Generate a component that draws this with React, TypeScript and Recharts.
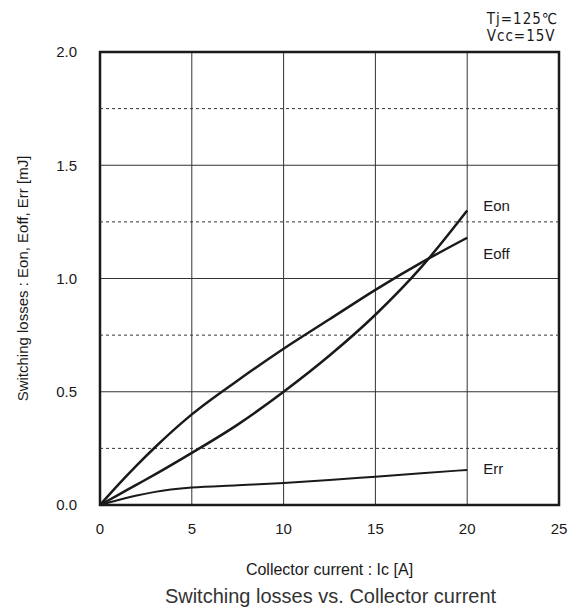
// Switching losses vs. Collector current (IGBT datasheet style)

import { LineChart, Line, XAxis, YAxis, CartesianGrid, ReferenceLine, ReferenceArea, Label } from 'recharts';

const currentA = [0, 1, 2, 3, 5, 7.5, 10, 12.5, 15, 17.5, 20];
const eonMJ = [0, 0.045, 0.09, 0.135, 0.23, 0.355, 0.5, 0.66, 0.84, 1.05, 1.3];
const eoffMJ = [0, 0.09, 0.175, 0.255, 0.4, 0.55, 0.69, 0.82, 0.95, 1.07, 1.18];
const errMJ = [0, 0.022, 0.042, 0.058, 0.077, 0.087, 0.097, 0.11, 0.125, 0.14, 0.155];

const xTicks = [0, 5, 10, 15, 20, 25];
const yTicks = [0, 0.5, 1.0, 1.5, 2.0];
const minorY = [0.25, 0.75, 1.25, 1.75];

const FONT = '"Liberation Sans", Arial, sans-serif';
const INK = '#1a1a1a';

const data = currentA.map((ic, i) => ({
  ic,
  eon: eonMJ[i],
  eoff: eoffMJ[i],
  err: errMJ[i],
}));

// name label drawn only next to the last point of a curve
const endLabel = (text: string, dy: number) => (props: any) => {
  const { x, y, index } = props;
  if (index !== data.length - 1) return null;
  return (
    <text x={x + 16} y={y + dy} fontSize={15} fontFamily={FONT} fill={INK}>
      {text}
    </text>
  );
};

export default function App() {
  return (
    <div style={{ position: 'absolute', left: 0, top: 0, width: 579, height: 611, background: '#fff' }}>
      <LineChart
        width={579}
        height={611}
        data={data}
        margin={{ top: 52, right: 20, bottom: 34, left: 40 }}
      >
        <CartesianGrid stroke="#333" strokeWidth={1} horizontalValues={yTicks} verticalValues={xTicks} />
        {minorY.map((v) => (
          <ReferenceLine key={v} y={v} stroke="#333" strokeWidth={1} strokeDasharray="3 3" />
        ))}
        <XAxis
          dataKey="ic"
          type="number"
          domain={[0, 25]}
          ticks={xTicks}
          tickLine={false}
          axisLine={false}
          tick={{ fontSize: 15, fontFamily: FONT, fill: INK }}
          tickMargin={12}
          height={72}
        >
          <Label value="Collector current : Ic [A]" position="insideBottom" offset={2} fontSize={16} fontFamily={FONT} fill={INK} />
        </XAxis>
        <YAxis
          type="number"
          domain={[0, 2]}
          ticks={yTicks}
          tickFormatter={(v: number) => v.toFixed(1)}
          tickLine={false}
          axisLine={false}
          tick={{ fontSize: 15, fontFamily: FONT, fill: INK }}
          tickMargin={17}
          width={60}
        >
          <Label
            value="Switching losses : Eon, Eoff, Err [mJ]"
            angle={-90}
            position="insideLeft"
            offset={-17}
            style={{ textAnchor: 'middle' }}
            fontSize={15}
            fontFamily={FONT}
            fill={INK}
          />
        </YAxis>
        <ReferenceArea x1={0} x2={25} y1={0} y2={2} fill="none" stroke={INK} strokeWidth={2.5} />
        <Line dataKey="eon" type="monotone" stroke={INK} strokeWidth={2.5} dot={false} isAnimationActive={false} label={endLabel('Eon', 0)} />
        <Line dataKey="eoff" type="monotone" stroke={INK} strokeWidth={2.5} dot={false} isAnimationActive={false} label={endLabel('Eoff', 21)} />
        <Line dataKey="err" type="monotone" stroke={INK} strokeWidth={2} dot={false} isAnimationActive={false} label={endLabel('Err', 4)} />
      </LineChart>
      <div style={{ position: 'absolute', right: 21, top: 11, fontFamily: '"DejaVu Sans Condensed", "DejaVu Sans", sans-serif', fontSize: 15, lineHeight: '17px', color: INK, letterSpacing: 1 }}>
        <div>Tj=125℃</div>
        <div>Vcc=15V</div>
      </div>
      <div style={{ position: 'absolute', left: 0, width: 661, top: 585, textAlign: 'center', fontFamily: FONT, fontSize: 20, color: '#333' }}>
        Switching losses vs. Collector current
      </div>
    </div>
  );
}
